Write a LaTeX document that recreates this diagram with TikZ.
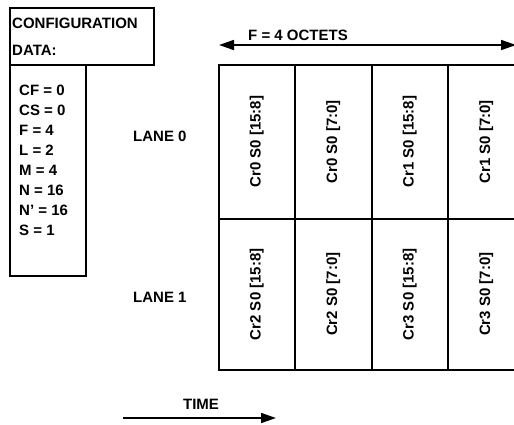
\documentclass[tikz,border=0pt]{standalone}
\usepackage{fontspec}
\setmainfont{Liberation Sans}
\usetikzlibrary{arrows.meta}
\begin{document}
\begin{tikzpicture}
[x=1pt,y=-1pt,%
  boxdecorate/.style={draw,line width=1.6pt,inner sep=0pt,anchor=north west},%
  textdecorate/.style={font=\fontsize{15}{20}\selectfont\bfseries,inner sep=0pt},%
  arrowdecorate/.style={line width=1.6pt},%
  >={Triangle[length=15pt,width=10pt]}]
\useasboundingbox (0,0) rectangle (514,424);
%% configuration data
\node (confighead) at (9,7) [boxdecorate,minimum width=144pt,minimum height=57pt] {};
\node (configlist) at (9,64) [boxdecorate,minimum width=76pt,minimum height=211pt] {};
\node (configtitle) at (12,23) [textdecorate,anchor=west] {CONFIGURATION};
\node (configdata) at (12,50) [textdecorate,anchor=west] {DATA:};
\foreach \paramtext [count=\i] in {CF = 0, CS = 0, F = 4, L = 2,
  M = 4, N = 16, N’ = 16, S = 1} {
  \node (param\i) at (19,70+20*\i) [textdecorate,anchor=west] {\paramtext};
}
%% lanes
\node (lane0) at (133,136) [textdecorate,anchor=west] {LANE 0};
\node (lane1) at (133,297) [textdecorate,anchor=west] {LANE 1};
%% octets
\foreach \cellname/\x/\y/\w/\h/\celltext in {a/218/64/76/154/{Cr0 S0 [15:8]},
  b/294/64/77/154/{Cr0 S0 [7:0]}, c/371/64/76/154/{Cr1 S0 [15:8]},
  d/447/64/77/154/{Cr1 S0 [7:0]}, e/218/218/76/151/{Cr2 S0 [15:8]},
  f/294/218/77/151/{Cr2 S0 [7:0]}, g/371/218/76/151/{Cr3 S0 [15:8]},
  h/447/218/77/151/{Cr3 S0 [7:0]}} {
  \node (\cellname) at (\x,\y) [boxdecorate,minimum width=\w pt,minimum height=\h pt] {};
  \node (\cellname text) at (\cellname.center) [textdecorate,rotate=90] {\celltext};
}
%% arrows
\coordinate (octetleft) at (219,45);
\coordinate (octetright) at (516,45);
\draw[arrowdecorate,<->] (octetleft) -- (octetright);
\node (octetlabel) at (298,35) [textdecorate] {F = 4 OCTETS};
\coordinate (timeleft) at (123,418);
\coordinate (timeright) at (276,418);
\draw[arrowdecorate,->] (timeleft) -- (timeright);
\node (timelabel) at (201,404) [textdecorate] {TIME};
\end{tikzpicture}
\end{document}
